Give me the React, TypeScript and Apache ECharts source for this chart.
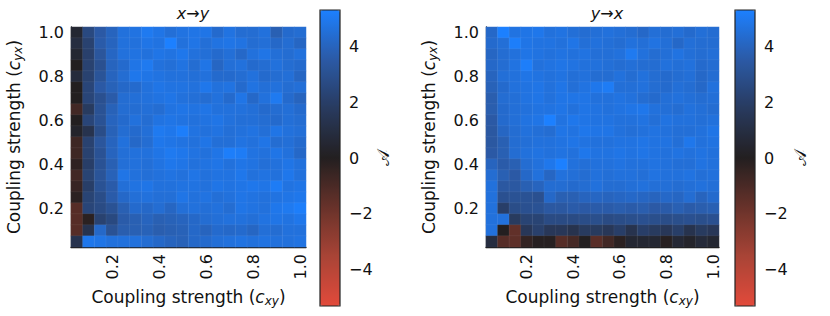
import React, { useEffect, useRef } from "react";
import * as echarts from "echarts";

// coupling strength categories (cell centres)
const couplings = [
  "0.05", "0.10", "0.15", "0.20", "0.25", "0.30", "0.35", "0.40", "0.45", "0.50",
  "0.55", "0.60", "0.65", "0.70", "0.75", "0.80", "0.85", "0.90", "0.95", "1.00",
];
const shownTicks = ["0.20", "0.40", "0.60", "0.80", "1.00"];
const colorbarTicks = [-4, -2, 0, 2, 4];
const vMin = -5.3;
const vMax = 5.3;

// x→y : rows from c_yx = 1.00 (top) down to 0.05 (bottom); columns c_xy 0.05 → 1.00
const xyRows: number[][] = [
  [0.5, 2.6, 3.5, 4.0, 4.6, 4.7, 5.0, 4.8, 4.5, 4.7, 4.8, 4.8, 4.3, 4.7, 4.4, 4.4, 4.6, 3.8, 4.3, 4.4],
  [0.9, 2.2, 3.6, 4.0, 4.6, 4.6, 4.8, 4.7, 5.3, 4.6, 4.8, 4.5, 4.7, 4.8, 4.7, 4.4, 4.5, 4.2, 4.4, 4.1],
  [0.5, 2.1, 3.3, 4.1, 4.6, 4.7, 4.6, 4.8, 4.7, 4.9, 4.6, 4.5, 4.3, 4.5, 4.2, 4.6, 4.8, 4.5, 4.4, 4.6],
  [0.0, 2.2, 3.0, 4.0, 4.3, 4.8, 5.0, 4.6, 4.5, 4.7, 4.4, 4.8, 4.1, 4.5, 4.6, 4.3, 4.4, 4.6, 4.4, 4.3],
  [0.8, 2.2, 3.2, 4.0, 4.4, 4.9, 4.8, 4.7, 4.6, 4.6, 4.5, 4.6, 4.3, 4.3, 4.4, 4.6, 4.3, 4.4, 4.5, 4.1],
  [0.0, 2.4, 3.5, 3.9, 4.2, 4.3, 4.6, 4.8, 4.7, 4.7, 4.6, 4.9, 4.6, 4.7, 4.3, 4.7, 4.5, 4.6, 4.4, 4.5],
  [0.0, 2.4, 3.0, 3.6, 4.4, 4.5, 4.6, 4.7, 4.8, 4.6, 4.5, 4.4, 4.6, 4.3, 4.8, 4.2, 4.6, 5.0, 4.3, 4.0],
  [-0.8, 1.8, 3.1, 3.9, 4.4, 4.4, 4.5, 4.4, 4.7, 4.8, 4.7, 4.8, 4.6, 4.6, 4.6, 4.5, 4.3, 4.4, 4.5, 4.3],
  [0.0, 2.4, 3.1, 4.0, 4.3, 4.6, 4.4, 4.7, 4.8, 4.7, 4.6, 4.7, 4.8, 4.6, 4.5, 4.5, 4.4, 4.3, 4.5, 4.4],
  [0.3, 1.3, 2.8, 3.9, 4.4, 4.3, 4.5, 5.0, 4.9, 5.2, 4.7, 4.6, 4.7, 4.5, 4.6, 4.7, 4.5, 4.8, 4.6, 4.5],
  [-0.7, 2.2, 3.3, 4.0, 4.6, 4.2, 4.4, 4.9, 4.8, 4.7, 4.6, 4.8, 4.5, 4.5, 4.7, 4.6, 4.8, 4.4, 4.5, 4.3],
  [-0.7, 2.2, 3.1, 4.0, 4.5, 4.6, 4.6, 4.8, 5.0, 4.9, 4.7, 4.6, 4.8, 5.2, 5.1, 4.7, 4.6, 4.8, 4.6, 4.2],
  [-0.3, 2.0, 3.1, 3.8, 4.5, 4.6, 4.5, 4.7, 4.9, 4.8, 4.6, 4.7, 4.8, 4.6, 4.8, 4.7, 4.5, 4.6, 4.8, 4.6],
  [-0.8, 2.3, 3.2, 3.9, 4.8, 4.6, 4.5, 4.6, 4.7, 4.6, 4.8, 4.6, 4.7, 4.7, 4.9, 4.6, 4.7, 4.6, 4.9, 4.6],
  [-0.5, 2.0, 3.1, 3.6, 4.5, 4.7, 4.8, 4.6, 4.6, 4.7, 4.7, 4.6, 4.8, 4.7, 4.8, 4.9, 4.8, 5.1, 4.7, 4.8],
  [-0.2, 2.3, 2.8, 3.6, 4.2, 4.5, 4.6, 4.5, 4.5, 4.8, 4.6, 4.7, 4.5, 4.6, 4.8, 4.7, 4.6, 4.7, 4.8, 4.9],
  [-1.3, 2.4, 2.7, 3.1, 3.8, 4.3, 4.2, 4.4, 4.1, 4.5, 4.6, 4.5, 4.6, 4.4, 4.8, 4.7, 4.6, 4.9, 5.0, 5.2],
  [-1.3, -0.2, 2.2, 2.6, 3.6, 3.8, 4.0, 3.8, 3.9, 4.0, 4.2, 4.4, 4.5, 4.6, 4.6, 4.5, 4.7, 4.8, 4.7, 4.9],
  [-1.3, 1.3, 4.2, 3.1, 3.7, 3.8, 3.9, 3.7, 3.8, 3.9, 4.2, 4.0, 4.3, 4.2, 4.3, 4.1, 4.5, 4.4, 4.6, 4.6],
  [1.3, 4.9, 4.8, 4.6, 4.6, 4.6, 4.4, 4.2, 4.0, 3.9, 4.2, 4.3, 4.5, 4.6, 4.7, 4.6, 4.7, 4.6, 4.6, 4.7],
];

// y→x : same layout
const yxRows: number[][] = [
  [4.2, 5.3, 4.7, 4.8, 4.9, 4.6, 4.7, 4.5, 4.4, 4.5, 4.6, 4.5, 4.4, 4.2, 4.5, 4.4, 4.5, 4.3, 4.5, 4.4],
  [4.3, 4.5, 5.2, 4.8, 4.7, 4.7, 4.6, 4.8, 4.5, 4.6, 4.5, 4.4, 4.6, 4.5, 4.7, 4.5, 4.2, 4.5, 4.4, 4.4],
  [4.1, 4.4, 4.6, 4.8, 4.7, 4.6, 4.7, 4.6, 4.7, 4.5, 4.5, 4.6, 5.0, 4.6, 4.4, 4.5, 4.7, 4.5, 4.4, 4.5],
  [4.2, 4.4, 4.7, 5.2, 4.6, 4.7, 4.8, 4.7, 4.6, 4.6, 4.5, 4.4, 4.5, 4.4, 4.4, 4.6, 4.5, 4.6, 4.3, 4.4],
  [4.0, 4.5, 4.6, 4.8, 4.7, 4.6, 4.7, 4.5, 4.6, 4.4, 4.4, 4.6, 4.4, 4.6, 4.4, 4.3, 4.4, 4.5, 4.2, 4.4],
  [3.9, 4.3, 4.6, 4.7, 4.8, 4.6, 4.8, 4.5, 4.7, 4.9, 5.1, 4.5, 4.5, 4.6, 4.4, 4.3, 4.5, 4.4, 4.2, 4.6],
  [3.7, 4.4, 4.5, 4.7, 4.8, 4.6, 4.8, 4.8, 4.8, 4.6, 4.6, 4.7, 4.6, 4.4, 4.3, 4.5, 4.6, 4.5, 4.4, 4.5],
  [3.7, 4.3, 4.5, 4.6, 4.7, 4.7, 4.8, 4.6, 4.8, 4.7, 4.6, 4.7, 4.8, 4.9, 4.6, 4.5, 4.4, 4.6, 4.5, 4.4],
  [3.5, 4.3, 4.5, 4.7, 4.8, 5.3, 4.7, 4.9, 4.8, 4.7, 4.7, 4.6, 4.6, 4.7, 4.5, 4.7, 4.6, 4.6, 4.5, 4.6],
  [3.4, 4.1, 4.4, 4.6, 4.5, 4.4, 4.8, 4.7, 4.9, 4.8, 4.8, 4.6, 4.5, 4.6, 4.7, 4.6, 4.5, 4.5, 4.6, 4.8],
  [3.4, 3.8, 4.4, 4.5, 4.6, 4.6, 4.7, 4.8, 4.7, 4.6, 4.6, 4.7, 4.7, 4.8, 4.7, 4.7, 4.5, 4.9, 4.6, 4.7],
  [3.5, 3.8, 4.4, 4.6, 4.7, 4.6, 4.7, 4.6, 4.9, 4.7, 4.7, 4.8, 4.7, 4.8, 4.7, 4.6, 4.7, 4.6, 4.7, 4.6],
  [4.0, 3.6, 3.8, 4.4, 4.6, 4.9, 5.3, 4.6, 4.5, 4.6, 4.6, 4.7, 4.6, 4.6, 4.7, 4.6, 4.5, 4.5, 4.7, 4.6],
  [4.4, 3.8, 3.5, 4.2, 4.6, 4.1, 4.6, 4.5, 4.4, 4.6, 4.5, 4.6, 4.6, 4.5, 4.7, 4.6, 4.6, 4.7, 4.5, 4.6],
  [4.6, 3.4, 3.4, 3.8, 4.0, 4.4, 4.4, 4.3, 4.4, 4.6, 4.4, 4.4, 4.5, 4.6, 4.5, 4.5, 4.4, 4.5, 4.6, 4.5],
  [4.6, 3.0, 3.1, 3.1, 3.0, 4.2, 3.8, 3.8, 4.0, 4.1, 4.0, 4.1, 4.2, 4.1, 4.0, 4.2, 4.1, 4.4, 4.0, 4.3],
  [4.6, 2.0, 2.8, 3.0, 3.1, 3.4, 3.4, 3.6, 3.5, 3.6, 3.6, 3.7, 3.6, 3.7, 3.5, 3.6, 3.8, 3.6, 3.7, 3.8],
  [4.6, 4.6, 1.8, 2.3, 2.3, 2.7, 2.7, 2.7, 2.8, 2.9, 2.7, 2.8, 2.9, 3.0, 2.9, 2.8, 2.9, 3.0, 2.9, 3.0],
  [4.6, 0.0, -1.6, 1.6, 2.1, 1.6, 1.6, 1.3, 1.8, 1.8, 1.6, 2.0, 1.3, 2.0, 1.8, 1.6, 2.0, 1.3, 1.8, 1.6],
  [0.9, -1.3, -1.5, -0.4, -0.1, -0.1, -1.3, -0.9, 0.0, -1.4, -0.8, -0.2, 0.5, 0.5, 0.5, -0.1, 0.6, 0.3, 0.7, 0.5],
];

const palette = ["#e24a3b", "#a94436", "#68322a", "#231f20", "#283a5e", "#2b5aa6", "#1c80ff"];

const FONT = "DejaVu Sans";
const INK = "#111";
const TICK_SIZE = 16;

function toCells(rows: number[][]) {
  const out: [number, number, number][] = [];
  const n = rows.length;
  rows.forEach((row, r) => {
    row.forEach((v, c) => out.push([c, n - 1 - r, v]));
  });
  return out;
}

const richName = {
  i: { fontStyle: "italic", fontFamily: FONT, fontSize: 17, color: INK },
  sub: { fontStyle: "italic", fontFamily: FONT, fontSize: 12, color: INK, padding: [9, 0, 0, 0] },
};

function heatAxes(gridIndex: number) {
  const tickLabel = {
    fontFamily: FONT,
    fontSize: TICK_SIZE,
    color: INK,
    interval: (i: number) => shownTicks.includes(couplings[i]),
    formatter: (v: string) => parseFloat(v).toFixed(1),
  };
  const x = {
    type: "category",
    gridIndex,
    data: couplings,
    axisLine: { show: true, lineStyle: { color: INK, width: 1.3 } },
    axisTick: { show: false },
    splitLine: { show: false },
    axisLabel: { ...tickLabel, rotate: 90, margin: 7 },
    name: "Coupling strength ({i|c}{sub|xy})",
    nameLocation: "middle",
    nameGap: 39,
    nameTextStyle: { fontFamily: FONT, fontSize: 17, color: INK, rich: richName },
  };
  const y = {
    type: "category",
    gridIndex,
    data: couplings,
    axisLine: { show: true, lineStyle: { color: INK, width: 1.3 } },
    axisTick: { show: false },
    splitLine: { show: false },
    axisLabel: { ...tickLabel, margin: 7 },
    name: "Coupling strength ({i|c}{sub|yx})",
    nameLocation: "middle",
    nameGap: 47,
    nameTextStyle: { fontFamily: FONT, fontSize: 17, color: INK, rich: richName },
  };
  return { x, y };
}

function cbAxes(gridIndex: number) {
  const x = { type: "value", gridIndex, show: false, min: 0, max: 1 };
  const y = {
    type: "value",
    gridIndex,
    min: vMin,
    max: vMax,
    position: "right",
    axisLine: { show: false },
    splitLine: { show: false },
    axisTick: { show: true, customValues: colorbarTicks, length: 4, lineStyle: { color: INK, width: 1.2 } },
    axisLabel: {
      customValues: colorbarTicks,
      fontFamily: FONT,
      fontSize: TICK_SIZE,
      color: INK,
      margin: 9,
      formatter: (v: number) => String(v).replace("-", "\u2212"),
    },
  };
  return { x, y };
}

export default function App() {
  const ref = useRef<HTMLDivElement>(null);
  useEffect(() => {
    if (!ref.current) return;
    const chart = echarts.init(ref.current, null, { renderer: "svg" });
    const h1 = heatAxes(0);
    const h2 = heatAxes(1);
    const c1 = cbAxes(2);
    const c2 = cbAxes(3);
    const cbGrid = (left: number) => ({
      left,
      top: 10,
      width: 20,
      height: 296,
      show: true,
      z: 10,
      backgroundColor: "transparent",
      borderColor: "#222",
      borderWidth: 1.2,
    });
    const vm = (left: number, seriesIndex: number) => ({
      type: "continuous",
      seriesIndex,
      min: vMin,
      max: vMax,
      left,
      top: 10,
      itemWidth: 20,
      itemHeight: 296,
      padding: 0,
      calculable: false,
      hoverLink: false,
      show: true,
      inRange: { color: palette },
    });
    const heat = (idx: number, rows: number[][]) => ({
      type: "heatmap",
      xAxisIndex: idx,
      yAxisIndex: idx,
      data: toCells(rows),
      itemStyle: { borderColor: "rgba(255,255,255,0.10)", borderWidth: 0.6 },
      emphasis: { disabled: true },
    });
    const titleRich = {
      i: { fontStyle: "italic", fontWeight: "normal", fontFamily: FONT, fontSize: 16, color: INK },
      n: { fontWeight: "normal", fontFamily: FONT, fontSize: 16, color: INK },
    };
    const titleStyle = { fontWeight: "normal", fontFamily: FONT, fontSize: 16, color: INK, rich: titleRich };
    chart.setOption({
      animation: false,
      backgroundColor: "#fff",
      textStyle: { fontFamily: FONT },
      title: [
        { text: "{i|x}{n|→}{i|y}", left: 188, top: 0, textAlign: "center", textStyle: titleStyle },
        { text: "{i|y}{n|→}{i|x}", left: 602, top: 0, textAlign: "center", textStyle: titleStyle },
      ],
      grid: [
        { left: 71, top: 27, width: 235, height: 220 },
        { left: 486, top: 27, width: 233, height: 220 },
        cbGrid(320),
        cbGrid(735),
      ],
      xAxis: [h1.x, h2.x, c1.x, c2.x],
      yAxis: [h1.y, h2.y, c1.y, c2.y],
      visualMap: [vm(320, 0), vm(735, 1)],
      series: [heat(0, xyRows), heat(1, yxRows)],
      graphic: [
        { type: "text", x: 383, y: 158, rotation: Math.PI / 2, style: { text: "𝒜", fontFamily: FONT, fontSize: 17, fill: INK, align: "center", verticalAlign: "middle" } },
        { type: "text", x: 800, y: 158, rotation: Math.PI / 2, style: { text: "𝒜", fontFamily: FONT, fontSize: 17, fill: INK, align: "center", verticalAlign: "middle" } },
      ],
    } as any);
    return () => chart.dispose();
  }, []);
  return <div ref={ref} style={{ position: "fixed", left: 0, top: 0, width: 830, height: 316 }} />;
}
